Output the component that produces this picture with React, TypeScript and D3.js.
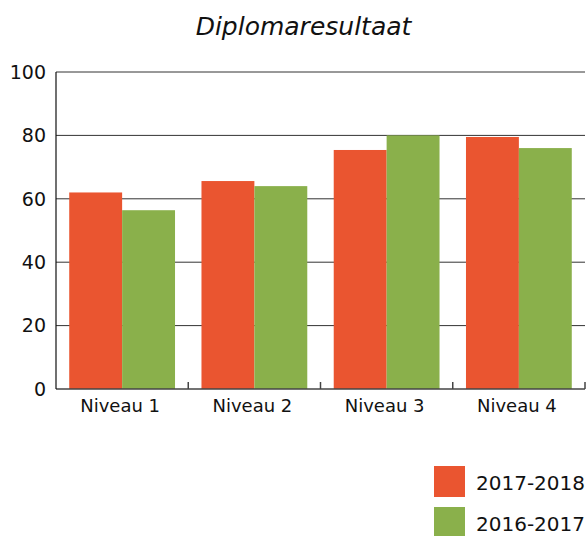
import React from "react";
import * as d3 from "d3";

const categories = ["Niveau 1", "Niveau 2", "Niveau 3", "Niveau 4"];
const seriesNames = ["2017-2018", "2016-2017"];
const values2017_2018 = [62.0, 65.6, 75.4, 79.5];
const values2016_2017 = [56.4, 64.0, 80.0, 76.0];
const yTicks = [0, 20, 40, 60, 80, 100];
const colors = ["#EA5530", "#8AB04B"];

const W = 588;
const H = 536;
const margin = { left: 56, right: 3, top: 72, bottom: 147 };
const FONT = "'DejaVu Sans', sans-serif";

export default function App() {
  const x = d3
    .scaleBand<string>()
    .domain(categories)
    .range([margin.left, W - margin.right])
    .paddingInner(0.2)
    .paddingOuter(0.1);
  const step = x.step();
  const sub = d3.scaleBand<string>().domain(seriesNames).range([0, x.bandwidth()]);
  const y = d3.scaleLinear().domain([0, 100]).range([H - margin.bottom, margin.top]);
  const series = [values2017_2018, values2016_2017];
  const x0 = margin.left;
  const x1 = W - margin.right;
  const yb = y(0);
  const boundaries = d3.range(categories.length + 1).map((i) => x0 + step * i);

  return (
    <svg
      width={W}
      height={H}
      style={{ position: "absolute", left: 0, top: 0, background: "#fff" }}
      fontFamily={FONT}
    >
      <text x={303.5} y={35} textAnchor="middle" fontSize={25} fontStyle="italic" fill="#111">
        Diplomaresultaat
      </text>
      {yTicks.filter((t) => t > 0).map((t) => (
        <line key={"g" + t} x1={x0} x2={x1} y1={y(t)} y2={y(t)} stroke="#333" strokeWidth={1} />
      ))}
      {categories.map((c, i) =>
        series.map((s, j) => (
          <rect
            key={c + j}
            x={(x(c) as number) + (sub(seriesNames[j]) as number)}
            y={y(s[i])}
            width={sub.bandwidth()}
            height={yb - y(s[i])}
            fill={colors[j]}
          />
        ))
      )}
      <line x1={x0} x2={x1} y1={yb} y2={yb} stroke="#444" strokeWidth={1.5} />
      {boundaries.slice(1).map((b, i) => (
        <line key={"t" + i} x1={b} x2={b} y1={yb} y2={yb - 7} stroke="#444" strokeWidth={1.5} />
      ))}
      <line x1={x0} x2={x0} y1={y(100)} y2={yb} stroke="#111" strokeWidth={1.2} />
      {yTicks.map((t) => (
        <text key={"y" + t} x={46} y={y(t)} dy="0.36em" textAnchor="end" fontSize={19} fill="#111">
          {t}
        </text>
      ))}
      {categories.map((c) => (
        <text
          key={"x" + c}
          x={(x(c) as number) + x.bandwidth() / 2 - 2}
          y={412}
          textAnchor="middle"
          fontSize={18}
          fill="#111"
        >
          {c}
        </text>
      ))}
      {seriesNames.map((n, j) => (
        <g key={"l" + n} transform={`translate(434, ${466 + j * 41})`}>
          <rect x={0} y={0} width={31} height={31} fill={colors[j]} />
          <text x={42} y={24} fontSize={20} fill="#111">
            {n}
          </text>
        </g>
      ))}
    </svg>
  );
}
